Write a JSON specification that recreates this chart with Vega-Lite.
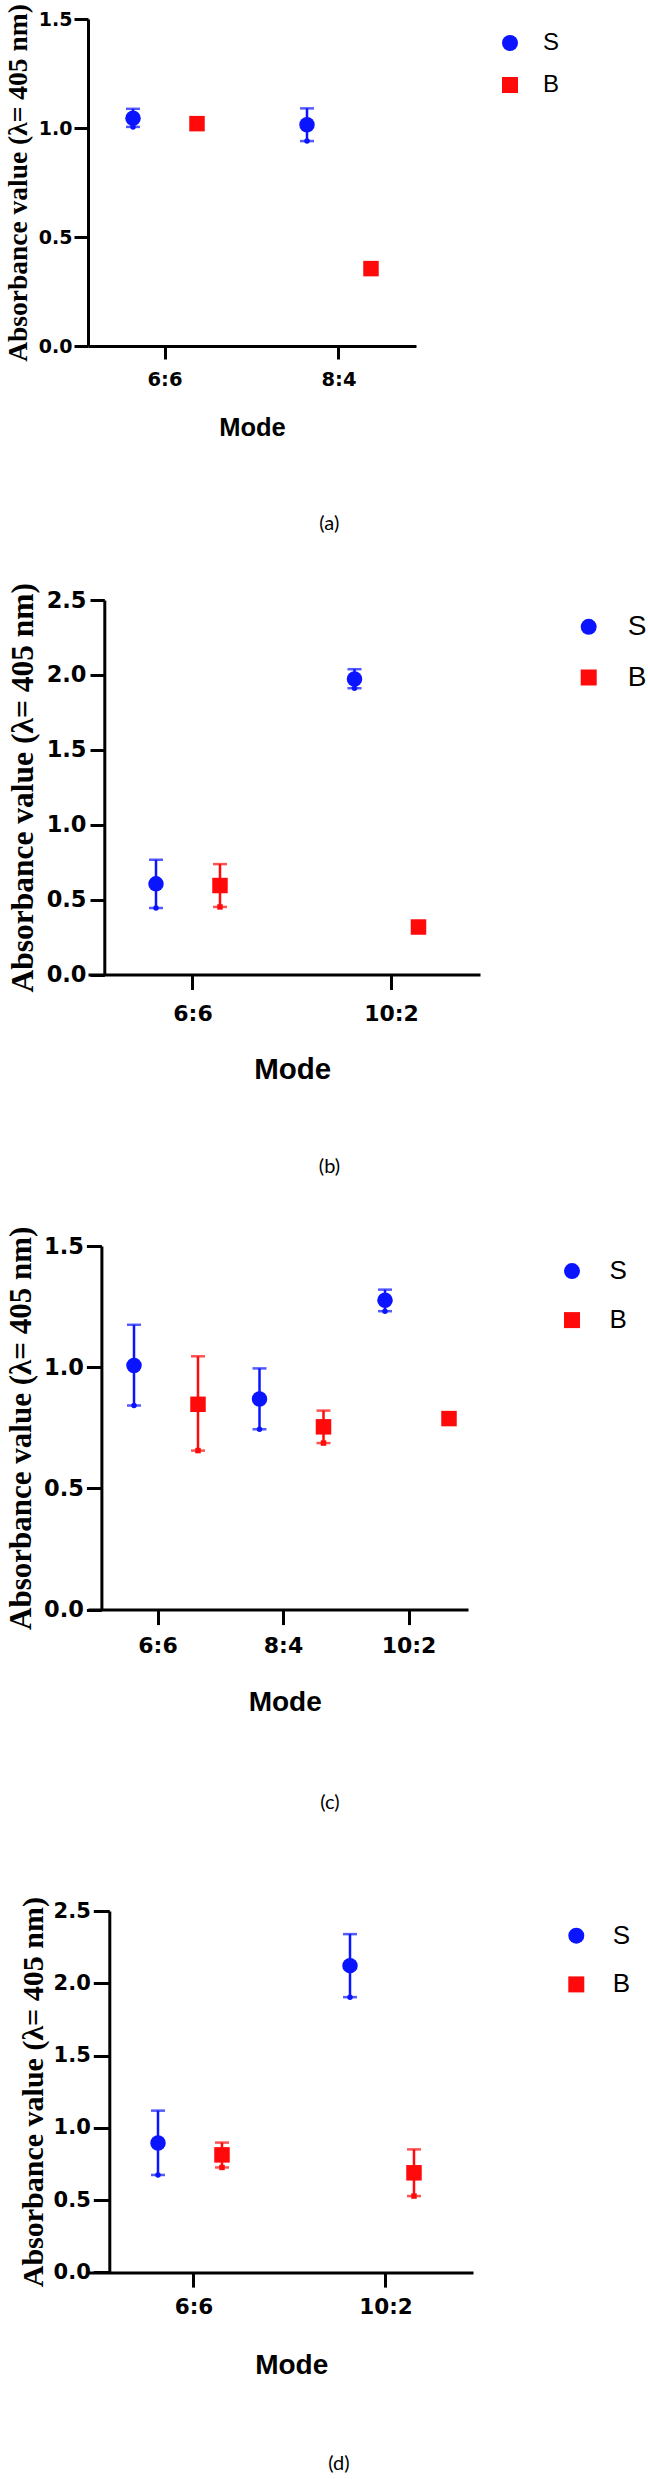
{
  "$schema": "https://vega.github.io/schema/vega-lite/v6.json",
  "padding": {"left": 3, "top": 3, "right": 0, "bottom": 0},
  "autosize": {"type": "pad"},
  "background": "white",
  "config": {
    "view": {"stroke": null},
    "axis": {"domainColor": "#000000", "domainWidth": 3, "tickColor": "#000000", "tickWidth": 3, "labelColor": "#000000", "labelFont": "DejaVu Sans", "labelFontWeight": "bold", "titleColor": "#000000", "grid": false},
    "axisX": {"labelAngle": 0, "titleFont": "Liberation Sans", "titleFontWeight": "bold", "titleBaseline": "alphabetic"},
    "axisY": {"titleFont": "Liberation Serif", "titleFontWeight": "bold", "titleBaseline": "alphabetic"},
    "legend": {"labelFont": "Liberation Sans", "labelColor": "#000000", "padding": 0, "symbolStrokeWidth": 0, "symbolSize": 256},
    "title": {"font": "Lato", "fontWeight": "normal", "color": "#000000", "fontSize": 20}
  },
  "spacing": 83,
  "resolve": {"scale": {"x": "independent", "y": "independent", "color": "independent", "shape": "independent"}, "axis": {"x": "independent", "y": "independent"}, "legend": {"color": "independent", "shape": "independent"}},
  "vconcat": [
    {
      "spacing": 48,
      "resolve": {"scale": {"x": "independent", "y": "independent", "color": "independent", "shape": "independent"}, "axis": {"x": "independent", "y": "independent"}, "legend": {"color": "independent", "shape": "independent"}},
      "vconcat": [
        {
          "width": 328,
          "height": 327,
          "title": {"text": "(a)", "orient": "bottom", "anchor": "middle", "frame": "group", "offset": 73.4, "dx": 77.3},
          "data": {"values": [
            {"mode": "6:6", "series": "S", "mean": 1.045, "lo": 1.005, "hi": 1.088},
            {"mode": "6:6", "series": "B", "mean": 1.02, "lo": 1.005, "hi": 1.035},
            {"mode": "8:4", "series": "S", "mean": 1.015, "lo": 0.94, "hi": 1.09},
            {"mode": "8:4", "series": "B", "mean": 0.355, "lo": 0.345, "hi": 0.365}
          ]},
          "encoding": {
            "x": {"field": "mode", "type": "nominal", "sort": ["6:6", "8:4"],
              "scale": {"type": "band", "paddingInner": 0.6322, "paddingOuter": 0.2587, "align": 0.5},
              "axis": {"title": "Mode", "titleFontSize": 25.5, "titleX": 164, "titleY": 89, "labelFontSize": 19.5, "tickSize": 13, "labelPadding": 11.8}},
            "xOffset": {"field": "series", "type": "nominal", "sort": ["S", "B"], "scale": {"type": "point", "padding": 0}},
            "color": {"field": "series", "type": "nominal", "sort": ["S", "B"], "scale": {"domain": ["S", "B"], "range": ["#0A14FF", "#FF0A0A"]},
              "legend": {"orient": "none", "legendX": 410, "legendY": 12, "title": null, "labelFontSize": 24, "labelOffset": 21, "rowPadding": 18, "symbolSize": 256}},
            "shape": {"field": "series", "type": "nominal", "sort": ["S", "B"], "scale": {"domain": ["S", "B"], "range": ["circle", "square"]},
              "legend": {"orient": "none", "legendX": 410, "legendY": 12, "title": null, "labelFontSize": 24, "labelOffset": 21, "rowPadding": 18, "symbolSize": 256}}
          },
          "layer": [
            {"mark": {"type": "point", "filled": true, "size": 240, "opacity": 1},
             "encoding": {"y": {"field": "mean", "type": "quantitative", "scale": {"domain": [0, 1.5], "nice": false},
               "axis": {"title": "Absorbance value (λ= 405 nm)", "values": [0, 0.5, 1, 1.5], "format": ".1f", "titleFontSize": 27.5, "titleX": -62, "labelFontSize": 19, "tickSize": 14, "labelPadding": 2, "offset": 0}}}},
            {"mark": {"type": "rule", "strokeWidth": 2.5},
             "encoding": {"y": {"field": "lo", "type": "quantitative", "scale": {"domain": [0, 1.5], "nice": false},
               "axis": {"title": "Absorbance value (λ= 405 nm)", "values": [0, 0.5, 1, 1.5], "format": ".1f", "titleFontSize": 27.5, "titleX": -62, "labelFontSize": 19, "tickSize": 14, "labelPadding": 2, "offset": 0}},
               "y2": {"field": "hi"}}},
            {"mark": {"type": "tick", "size": 14, "thickness": 2.5},
             "encoding": {"y": {"field": "lo", "type": "quantitative", "scale": {"domain": [0, 1.5], "nice": false},
               "axis": {"title": "Absorbance value (λ= 405 nm)", "values": [0, 0.5, 1, 1.5], "format": ".1f", "titleFontSize": 27.5, "titleX": -62, "labelFontSize": 19, "tickSize": 14, "labelPadding": 2, "offset": 0}}}},
            {"mark": {"type": "tick", "size": 14, "thickness": 2.5},
             "encoding": {"y": {"field": "hi", "type": "quantitative", "scale": {"domain": [0, 1.5], "nice": false},
               "axis": {"title": "Absorbance value (λ= 405 nm)", "values": [0, 0.5, 1, 1.5], "format": ".1f", "titleFontSize": 27.5, "titleX": -62, "labelFontSize": 19, "tickSize": 14, "labelPadding": 2, "offset": 0}}}}
          ]
        },
        {
          "width": 392,
          "height": 374.5,
          "title": {"text": "(b)", "orient": "bottom", "anchor": "middle", "frame": "group", "offset": 73.3, "dx": 45.5},
          "data": {"values": [
            {"mode": "6:6", "series": "S", "mean": 0.605, "lo": 0.444, "hi": 0.766},
            {"mode": "6:6", "series": "B", "mean": 0.594, "lo": 0.451, "hi": 0.737},
            {"mode": "10:2", "series": "S", "mean": 1.972, "lo": 1.911, "hi": 2.038},
            {"mode": "10:2", "series": "B", "mean": 0.317, "lo": 0.3, "hi": 0.335}
          ]},
          "encoding": {
            "x": {"field": "mode", "type": "nominal", "sort": ["6:6", "10:2"],
              "scale": {"type": "band", "paddingInner": 0.6272, "paddingOuter": 0.301, "align": 0.569},
              "axis": {"title": "Mode", "titleFontSize": 29.5, "titleX": 204.2, "titleY": 104, "labelFontSize": 22, "tickSize": 15, "labelPadding": 13.5}},
            "xOffset": {"field": "series", "type": "nominal", "sort": ["S", "B"], "scale": {"type": "point", "padding": 0}},
            "color": {"field": "series", "type": "nominal", "sort": ["S", "B"], "scale": {"domain": ["S", "B"], "range": ["#0A14FF", "#FF0A0A"]},
              "legend": {"orient": "none", "legendX": 486.7, "legendY": 12.8, "title": null, "labelFontSize": 28, "labelOffset": 25, "rowPadding": 22.7, "symbolSize": 256}},
            "shape": {"field": "series", "type": "nominal", "sort": ["S", "B"], "scale": {"domain": ["S", "B"], "range": ["circle", "square"]},
              "legend": {"orient": "none", "legendX": 486.7, "legendY": 12.8, "title": null, "labelFontSize": 28, "labelOffset": 25, "rowPadding": 22.7, "symbolSize": 256}}
          },
          "layer": [
            {"mark": {"type": "point", "filled": true, "size": 240, "opacity": 1},
             "encoding": {"y": {"field": "mean", "type": "quantitative", "scale": {"domain": [0, 2.5], "nice": false},
               "axis": {"title": "Absorbance value (λ= 405 nm)", "values": [0, 0.5, 1, 1.5, 2, 2.5], "format": ".1f", "titleFontSize": 31.5, "titleX": -72.3, "labelFontSize": 22.5, "tickSize": 14.3, "labelPadding": 4, "offset": -16.3}}}},
            {"mark": {"type": "rule", "strokeWidth": 2.5},
             "encoding": {"y": {"field": "lo", "type": "quantitative", "scale": {"domain": [0, 2.5], "nice": false},
               "axis": {"title": "Absorbance value (λ= 405 nm)", "values": [0, 0.5, 1, 1.5, 2, 2.5], "format": ".1f", "titleFontSize": 31.5, "titleX": -72.3, "labelFontSize": 22.5, "tickSize": 14.3, "labelPadding": 4, "offset": -16.3}},
               "y2": {"field": "hi"}}},
            {"mark": {"type": "tick", "size": 14, "thickness": 2.5},
             "encoding": {"y": {"field": "lo", "type": "quantitative", "scale": {"domain": [0, 2.5], "nice": false},
               "axis": {"title": "Absorbance value (λ= 405 nm)", "values": [0, 0.5, 1, 1.5, 2, 2.5], "format": ".1f", "titleFontSize": 31.5, "titleX": -72.3, "labelFontSize": 22.5, "tickSize": 14.3, "labelPadding": 4, "offset": -16.3}}}},
            {"mark": {"type": "tick", "size": 14, "thickness": 2.5},
             "encoding": {"y": {"field": "hi", "type": "quantitative", "scale": {"domain": [0, 2.5], "nice": false},
               "axis": {"title": "Absorbance value (λ= 405 nm)", "values": [0, 0.5, 1, 1.5, 2, 2.5], "format": ".1f", "titleFontSize": 31.5, "titleX": -72.3, "labelFontSize": 22.5, "tickSize": 14.3, "labelPadding": 4, "offset": -16.3}}}}
          ]
        },
        {
          "width": 380,
          "height": 363.6,
          "title": {"text": "(c)", "orient": "bottom", "anchor": "middle", "frame": "group", "offset": 76.4, "dx": 52},
          "data": {"values": [
            {"mode": "6:6", "series": "S", "mean": 1.007, "lo": 0.842, "hi": 1.175},
            {"mode": "6:6", "series": "B", "mean": 0.847, "lo": 0.656, "hi": 1.045},
            {"mode": "8:4", "series": "S", "mean": 0.869, "lo": 0.744, "hi": 0.995},
            {"mode": "8:4", "series": "B", "mean": 0.754, "lo": 0.687, "hi": 0.821},
            {"mode": "10:2", "series": "S", "mean": 1.276, "lo": 1.231, "hi": 1.32},
            {"mode": "10:2", "series": "B", "mean": 0.788, "lo": 0.775, "hi": 0.8}
          ]},
          "encoding": {
            "x": {"field": "mode", "type": "nominal", "sort": ["6:6", "8:4", "10:2"],
              "scale": {"type": "band", "paddingInner": 0.6175, "paddingOuter": 0.3227, "align": 0.568},
              "axis": {"title": "Mode", "titleFontSize": 28, "titleX": 196.7, "titleY": 100.9, "labelFontSize": 22, "tickSize": 15, "labelPadding": 10.7}},
            "xOffset": {"field": "series", "type": "nominal", "sort": ["S", "B"], "scale": {"type": "point", "padding": 0}},
            "color": {"field": "series", "type": "nominal", "sort": ["S", "B"], "scale": {"domain": ["S", "B"], "range": ["#0A14FF", "#FF0A0A"]},
              "legend": {"orient": "none", "legendX": 471, "legendY": 12.1, "title": null, "labelFontSize": 26, "labelOffset": 24.4, "rowPadding": 23, "symbolSize": 256}},
            "shape": {"field": "series", "type": "nominal", "sort": ["S", "B"], "scale": {"domain": ["S", "B"], "range": ["circle", "square"]},
              "legend": {"orient": "none", "legendX": 471, "legendY": 12.1, "title": null, "labelFontSize": 26, "labelOffset": 24.4, "rowPadding": 23, "symbolSize": 256}}
          },
          "layer": [
            {"mark": {"type": "point", "filled": true, "size": 240, "opacity": 1},
             "encoding": {"y": {"field": "mean", "type": "quantitative", "scale": {"domain": [0, 1.5], "nice": false},
               "axis": {"title": "Absorbance value (λ= 405 nm)", "values": [0, 0.5, 1, 1.5], "format": ".1f", "titleFontSize": 31, "titleX": -71.4, "labelFontSize": 22.5, "tickSize": 15, "labelPadding": 3, "offset": -13.4}}}},
            {"mark": {"type": "rule", "strokeWidth": 2.5},
             "encoding": {"y": {"field": "lo", "type": "quantitative", "scale": {"domain": [0, 1.5], "nice": false},
               "axis": {"title": "Absorbance value (λ= 405 nm)", "values": [0, 0.5, 1, 1.5], "format": ".1f", "titleFontSize": 31, "titleX": -71.4, "labelFontSize": 22.5, "tickSize": 15, "labelPadding": 3, "offset": -13.4}},
               "y2": {"field": "hi"}}},
            {"mark": {"type": "tick", "size": 14, "thickness": 2.5},
             "encoding": {"y": {"field": "lo", "type": "quantitative", "scale": {"domain": [0, 1.5], "nice": false},
               "axis": {"title": "Absorbance value (λ= 405 nm)", "values": [0, 0.5, 1, 1.5], "format": ".1f", "titleFontSize": 31, "titleX": -71.4, "labelFontSize": 22.5, "tickSize": 15, "labelPadding": 3, "offset": -13.4}}}},
            {"mark": {"type": "tick", "size": 14, "thickness": 2.5},
             "encoding": {"y": {"field": "hi", "type": "quantitative", "scale": {"domain": [0, 1.5], "nice": false},
               "axis": {"title": "Absorbance value (λ= 405 nm)", "values": [0, 0.5, 1, 1.5], "format": ".1f", "titleFontSize": 31, "titleX": -71.4, "labelFontSize": 22.5, "tickSize": 15, "labelPadding": 3, "offset": -13.4}}}}
          ]
        }
      ]
    },
    {
      "width": 385,
      "height": 361.4,
      "title": {"text": "(d)", "orient": "bottom", "anchor": "middle", "frame": "group", "offset": 74.9, "dx": 58.5},
      "data": {"values": [
        {"mode": "6:6", "series": "S", "mean": 0.895, "lo": 0.674, "hi": 1.119},
        {"mode": "6:6", "series": "B", "mean": 0.813, "lo": 0.726, "hi": 0.898},
        {"mode": "10:2", "series": "S", "mean": 2.122, "lo": 1.904, "hi": 2.34},
        {"mode": "10:2", "series": "B", "mean": 0.689, "lo": 0.528, "hi": 0.851}
      ]},
      "encoding": {
        "x": {"field": "mode", "type": "nominal", "sort": ["6:6", "10:2"],
          "scale": {"type": "band", "paddingInner": 0.625, "paddingOuter": 0.3151, "align": 0.5785},
          "axis": {"title": "Mode", "titleFontSize": 28, "titleX": 203.2, "titleY": 101, "labelFontSize": 21.5, "tickSize": 14.7, "labelPadding": 9.7}},
        "xOffset": {"field": "series", "type": "nominal", "sort": ["S", "B"], "scale": {"type": "point", "padding": 0}},
        "color": {"field": "series", "type": "nominal", "sort": ["S", "B"], "scale": {"domain": ["S", "B"], "range": ["#0A14FF", "#FF0A0A"]},
          "legend": {"orient": "none", "legendX": 475.3, "legendY": 11.7, "title": null, "labelFontSize": 26, "labelOffset": 23.4, "rowPadding": 22.7, "symbolSize": 256}},
        "shape": {"field": "series", "type": "nominal", "sort": ["S", "B"], "scale": {"domain": ["S", "B"], "range": ["circle", "square"]},
          "legend": {"orient": "none", "legendX": 475.3, "legendY": 11.7, "title": null, "labelFontSize": 26, "labelOffset": 23.4, "rowPadding": 22.7, "symbolSize": 256}}
      },
      "layer": [
        {"mark": {"type": "point", "filled": true, "size": 240, "opacity": 1},
         "encoding": {"y": {"field": "mean", "type": "quantitative", "scale": {"domain": [0, 2.5], "nice": false},
           "axis": {"title": "Absorbance value (λ= 405 nm)", "values": [0, 0.5, 1, 1.5, 2, 2.5], "format": ".1f", "titleFontSize": 30, "titleX": -66.6, "labelFontSize": 21, "tickSize": 16, "labelPadding": 3, "offset": -21.3}}}},
        {"mark": {"type": "rule", "strokeWidth": 2.5},
         "encoding": {"y": {"field": "lo", "type": "quantitative", "scale": {"domain": [0, 2.5], "nice": false},
           "axis": {"title": "Absorbance value (λ= 405 nm)", "values": [0, 0.5, 1, 1.5, 2, 2.5], "format": ".1f", "titleFontSize": 30, "titleX": -66.6, "labelFontSize": 21, "tickSize": 16, "labelPadding": 3, "offset": -21.3}},
           "y2": {"field": "hi"}}},
        {"mark": {"type": "tick", "size": 14, "thickness": 2.5},
         "encoding": {"y": {"field": "lo", "type": "quantitative", "scale": {"domain": [0, 2.5], "nice": false},
           "axis": {"title": "Absorbance value (λ= 405 nm)", "values": [0, 0.5, 1, 1.5, 2, 2.5], "format": ".1f", "titleFontSize": 30, "titleX": -66.6, "labelFontSize": 21, "tickSize": 16, "labelPadding": 3, "offset": -21.3}}}},
        {"mark": {"type": "tick", "size": 14, "thickness": 2.5},
         "encoding": {"y": {"field": "hi", "type": "quantitative", "scale": {"domain": [0, 2.5], "nice": false},
           "axis": {"title": "Absorbance value (λ= 405 nm)", "values": [0, 0.5, 1, 1.5, 2, 2.5], "format": ".1f", "titleFontSize": 30, "titleX": -66.6, "labelFontSize": 21, "tickSize": 16, "labelPadding": 3, "offset": -21.3}}}}
      ]
    }
  ]
}
